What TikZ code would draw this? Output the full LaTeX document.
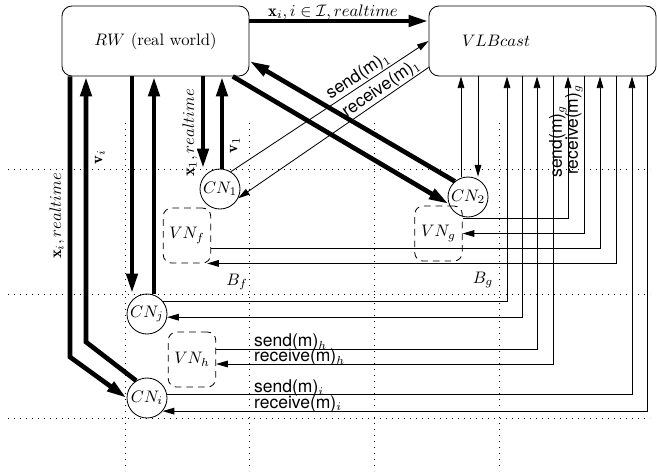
\documentclass[tikz,border=0pt]{standalone}
\usepackage{fontspec}
\setsansfont{TeX Gyre Heros}
\usetikzlibrary{arrows.meta,calc}
\begin{document}
\begin{tikzpicture}[x=0.6pt,y=-0.6pt,
  thk/.style={line width=2.8pt,-{Triangle[length=12pt,width=6.5pt]}},
  thn/.style={line width=0.5pt,-{Triangle[length=7pt,width=4pt]}},
  thnrev/.style={line width=0.5pt,{Triangle[length=7pt,width=4pt]}-},
  bigbox/.style={draw,line width=0.5pt,rounded corners=6pt,minimum height=42pt},
  cnode/.style={draw,circle,line width=0.5pt,minimum size=24pt,inner sep=0pt},
  vnode/.style={draw,dash pattern=on 4pt off 3pt,rounded corners=5pt,line width=0.5pt,minimum width=28.5pt,minimum height=33pt,inner sep=0pt},
  gridline/.style={line width=0.5pt,dash pattern=on 0.5pt off 3.1pt},
  lab/.style={font=\sffamily\fontsize{10.5}{12}\selectfont, inner sep=0.5pt},
  rlab/.style={rotate=90,inner sep=0pt},
]
\useasboundingbox (0,0) rectangle (657,471);
% dotted grid
\foreach \gx in {125,249,374,499} \draw[gridline] (\gx,123) -- (\gx,471);
\foreach \gy in {169,294,418} \draw[gridline] (8,\gy) -- (650,\gy);
% nodes
\node[bigbox,minimum width=112.2pt] (rw) at (155.5,41) {$RW$ (real world)};
\node[bigbox,minimum width=136.2pt,inner xsep=19.8pt,text width=96.6pt,align=left] (vlb) at (542.5,41) {$VLBcast$};
\node[cnode] (cn1) at (220,189) {$CN_1$};
\node[cnode] (cn2) at (468,197) {$CN_2$};
\node[cnode] (cnj) at (147,314) {$CN_j$};
\node[cnode] (cni) at (147,398) {$CN_i$};
\node[vnode] (vnf) at (187,235.5) {$VN_f$};
\node[vnode] (vng) at (438.5,233.5) {$VN_g$};
\node[vnode] (vnh) at (192,359.5) {$VN_h$};
% columns
\coordinate (ca) at (70,0);
\coordinate (cb) at (86,0);
\coordinate (cc) at (132,0);
\coordinate (cd) at (154,0);
\coordinate (ce) at (203,0);
\coordinate (cf) at (222,0);
\coordinate (k1) at (461,0);
\coordinate (k2) at (478,0);
\coordinate (k3) at (507,0);
\coordinate (k4) at (522,0);
\coordinate (k5) at (537,0);
\coordinate (k6) at (553,0);
\coordinate (k7) at (568,0);
\coordinate (k8) at (584,0);
\coordinate (k9) at (600,0);
\coordinate (k10) at (616,0);
\coordinate (k11) at (632,0);
\coordinate (k12) at (647,0);
\coordinate (bi1) at (70,357);
\coordinate (bi2) at (86,342);
% thick connectors
\draw[thk] ([yshift=12pt]rw.east) -- ([yshift=12pt]vlb.west);
\node[anchor=base,inner sep=0pt] (ltop) at (333,16) {$\mathbf{x}_i, i\in\mathcal{I}, realtime$};
\draw[thk] (rw.south -| ce) -- (cn1.north -| ce);
\draw[thk] (cn1.north -| cf) -- (rw.south -| cf);
\draw[thk] ([xshift=-10pt]rw.south east) -- (cn2.200);
\draw[thk] (cn2.130) -- ([yshift=-12pt]rw.east);
\draw[thk] (rw.south -| cc) -- (cnj.north -| cc);
\draw[thk] (cnj.north -| cd) -- (rw.south -| cd);
\draw[thk] (rw.south -| ca) -- (bi1) -- (cni.west);
\draw[thk] (cni.122) -- (bi2) -- (rw.south -| cb);
\node[rlab] (lx1) at (190,133) {$\mathbf{x}_1, realtime$};
\node[rlab] (lv1) at (235,145) {$\mathbf{v}_1$};
\node[rlab] (lxi) at (57,216) {$\mathbf{x}_i, realtime$};
\node[rlab] (lvi) at (100,157) {$\mathbf{v}_i$};
% thin connectors
\draw[thn] (cn1.58) -- node[lab,sloped,above,pos=0.67] (ls1) {send(m)$_1$} (vlb.west);
\draw[thnrev] (cn1.-27) -- node[lab,sloped,above,pos=0.78] (lr1) {receive(m)$_1$} ([yshift=5.4pt]vlb.south west);
\draw[thn] (cn2.north -| k1) -- (vlb.south -| k1);
\draw[thn] (vlb.south -| k2) -- (cn2.north -| k2);
\draw[thn] (cnj.37) -| (vlb.south -| k3);
\draw[thnrev] (cnj.-9) -| (vlb.south -| k4);
\draw[thn] ([yshift=6.3pt]vnh.east) -| (vlb.south -| k5);
\draw[thnrev] ([yshift=-2.7pt]vnh.east) -| (vlb.south -| k6);
\draw[thn] ([yshift=9.3pt]vng.east) -| node[lab,sloped,above,pos=0.77] (lsg) {send(m)$_g$} (vlb.south -| k7);
\draw[thnrev] (vng.east) -| node[lab,sloped,above,pos=0.83] (lrg) {receive(m)$_g$} (vlb.south -| k8);
\draw[thn] ([yshift=-7.5pt]vnf.east) -| (vlb.south -| k9);
\draw[thnrev] ([xshift=-2.4pt]vnf.south east) -| (vlb.south -| k10);
\draw[thn] (cni.9) -| (vlb.south -| k11);
\draw[thnrev] (cni.-40) -| (vlb.south -| k12);
% labels
\node[lab,anchor=base west] (lsh) at (253,346.5) {send(m)$_h$};
\node[lab,anchor=base west] (lrh) at (253,361.5) {receive(m)$_h$};
\node[lab,anchor=base west] (lsi) at (253,392.5) {send(m)$_i$};
\node[lab,anchor=base west] (lri) at (253,408) {receive(m)$_i$};
\node (lbf) at (237,282) {$B_f$};
\node (lbg) at (483,280) {$B_g$};
\end{tikzpicture}
\end{document}
